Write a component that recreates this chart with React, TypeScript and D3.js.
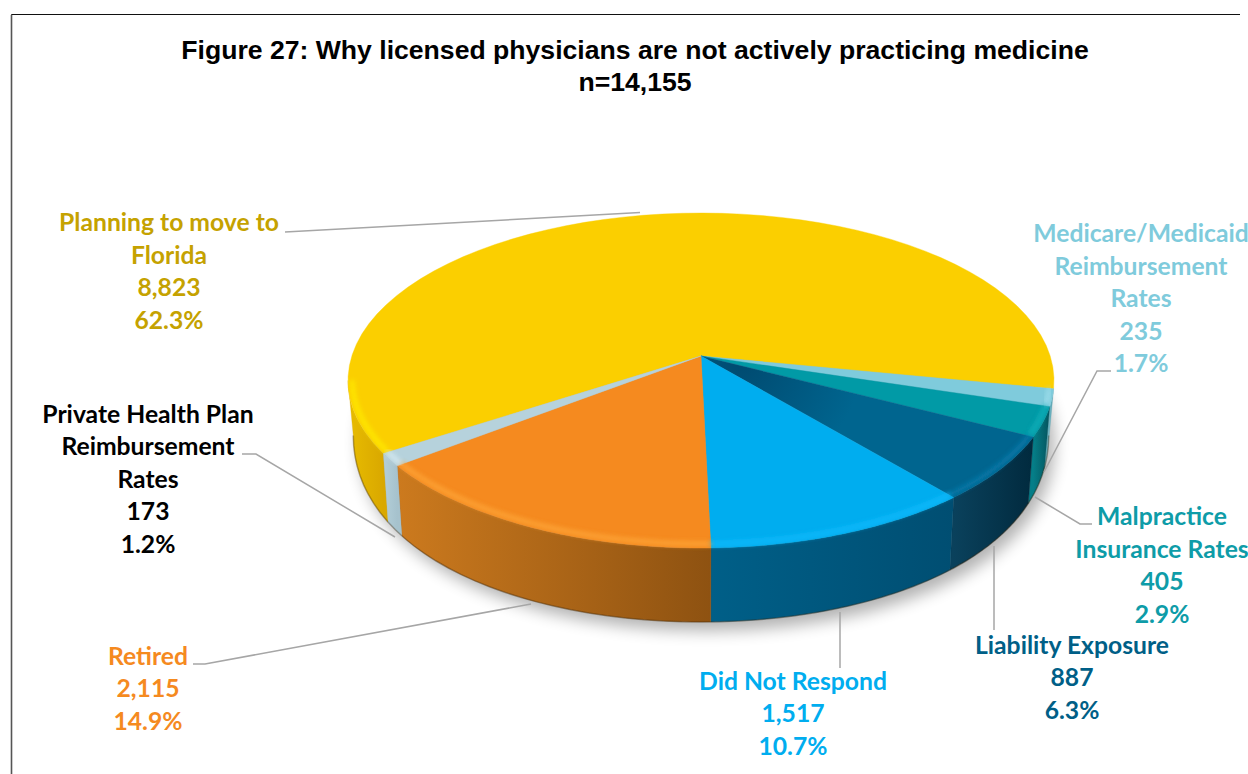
import React from "react";
import * as d3 from "d3";

const titleLines = ["Figure 27: Why licensed physicians are not actively practicing medicine", "n=14,155"];
const categories = ["Planning to move to Florida", "Medicare/Medicaid Reimbursement Rates", "Malpractice Insurance Rates", "Liability Exposure", "Did Not Respond", "Retired", "Private Health Plan Reimbursement Rates"];
const counts = [8823, 235, 405, 887, 1517, 2115, 173];
const percents = ["62.3%", "1.7%", "2.9%", "6.3%", "10.7%", "14.9%", "1.2%"];
const labelLines = [["Planning to move to", "Florida"], ["Medicare/Medicaid", "Reimbursement", "Rates"], ["Malpractice", "Insurance Rates"], ["Liability Exposure"], ["Did Not Respond"], ["Retired"], ["Private Health Plan", "Reimbursement", "Rates"]];
const topColors = ["#FBCF00", "#7FCBDC", "#019AA6", "#00658F", "#00ADEF", "#F58A1F", "#B6D2DC"];
const wallFrom = ["#E8BC00", "#6FB4C2", "#057E88", "#0A415C", "#005F88", "#CC7A1E", "#B4CFD9"];
const wallTo = ["#D9A800", "#55A0AE", "#04545E", "#012A3E", "#004E72", "#8E5211", "#A6C2CD"];
const bevelColors = ["#FFF000", "#A4E2EE", "#19B4BE", "#0A7FB0", "#12BEFF", "#FFAA3C", "#DCEEF4"];
const textColors = ["#C5A200", "#7FCBDC", "#0E9CA8", "#005F87", "#00ADEF", "#F58A1F", "#000000"];
const labelCenters = [[169, 231], [1141, 242], [1162, 525], [1072, 653.5], [793, 689.5], [148, 664.5], [148, 422.5]];
const leaders = [
  [[285, 232], [640, 212.5]],
  [[1111, 371], [1097, 371], [1044, 472]],
  [[1092, 524], [1080, 524], [1035, 497]],
  [[994, 630], [994, 546]],
  [[840, 668], [840, 612]],
  [[193, 664], [205, 664], [531, 604]],
  [[242, 454], [256, 454], [395, 537]],
];

const W = 1248, H = 774;
const apex = { x: 701, y: 356 };
const A = 349.2, B = 163.9, K = 0.1463;
const START = (236.8 * Math.PI) / 180;

const rim = (a: number) => {
  const u = Math.sin(a), v = -Math.cos(a), q = 1 - K * v;
  return [apex.x + (A * u) / q, apex.y + (B * v) / q] as [number, number];
};
const inner = (a: number) => {
  const u = Math.sin(a), v = -Math.cos(a), q = 1 - K * v;
  return [apex.x + (A * 0.988 * u) / q, apex.y + (B * 0.978 * v) / q] as [number, number];
};
const floor = (a: number) => {
  const [x, y] = rim(a);
  const v = Math.max(0, -Math.cos(a));
  return [apex.x + (x - apex.x) * 0.985, y + 74 - 26 * (1 - v) * (1 - v)] as [number, number];
};
const samples = (a0: number, a1: number, f: (a: number) => [number, number]) =>
  d3.range(0, 61).map((i) => f(a0 + ((a1 - a0) * i) / 60));
const line = d3.line();

const pie = d3.pie<number>().sort(null).startAngle(START).endAngle(START + Math.PI * 2);
const arcs = pie(counts);

// side wall is only seen on the near half of the disc
const visibleFrom = Math.PI - Math.acos(K);
const visibleTo = Math.PI + Math.acos(K);
const wallRange = (a0: number, a1: number) => {
  for (const k of [0, Math.PI * 2]) {
    const s = Math.max(a0, visibleFrom + k), e = Math.min(a1, visibleTo + k);
    if (e > s) return [s, e];
  }
  return null;
};
const wholeFloor = line(samples(0, Math.PI * 2, floor)) + "Z";
const wholeTop = line(samples(0, Math.PI * 2, rim)) + "Z";
const wholeWall = line([...samples(visibleFrom, visibleTo, rim), ...samples(visibleTo, visibleFrom, floor)]) + "Z";

export default function App() {
  return (
    <svg width={W} height={H} viewBox={`0 0 ${W} ${H}`} style={{ position: "fixed", left: 0, top: 0, display: "block", background: "#fff" }}>
      <defs>
        <filter id="shadow" x="-20%" y="-20%" width="140%" height="140%"><feGaussianBlur stdDeviation="8" /></filter>
        <filter id="soft" x="-20%" y="-20%" width="140%" height="140%"><feGaussianBlur stdDeviation="2.5" /></filter>
        <clipPath id="solid"><path d={wholeTop} /><path d={wholeWall} /></clipPath>
        {arcs.map((d, i) => {
          const r = wallRange(d.startAngle, d.endAngle);
          if (!r) return null;
          const p0 = rim(r[0]), p1 = rim(r[1]);
          const left = Math.min(p0[0], p1[0]), right = Math.max(p0[0], p1[0]);
          return (
            <linearGradient key={i} id={`wall${i}`} gradientUnits="userSpaceOnUse" x1={left} x2={right} y1={0} y2={0}>
              <stop offset="0" stopColor={wallFrom[i]} />
              <stop offset="1" stopColor={wallTo[i]} />
            </linearGradient>
          );
        })}
        <radialGradient id="liabilityShade" gradientUnits="userSpaceOnUse" cx={apex.x + 40} cy={apex.y + 5} r={120}>
          <stop offset="0" stopColor="#004A70" />
          <stop offset="1" stopColor="#00658F" />
        </radialGradient>
      </defs>

      <path d={`M11.5 775V14.5H1240`} fill="none" stroke="#111" strokeWidth={1} />
      <path d={`M11.5 15V775`} fill="none" stroke="#555" strokeWidth={1.6} />

      {titleLines.map((t, i) => (
        <text key={t} x={635} y={59 + i * 31.5} textAnchor="middle" fontFamily="Liberation Sans" fontWeight={700} fontSize={26.6} fill="#000">{t}</text>
      ))}

      <path d={wholeFloor} transform="translate(6 9)" fill="#000" opacity={0.3} filter="url(#shadow)" />

      {arcs.map((d, i) => {
        const r = wallRange(d.startAngle, d.endAngle);
        if (!r) return null;
        const top = samples(r[0], r[1], rim);
        const bottom = samples(r[1], r[0], floor);
        return <path key={i} d={line([...top, ...bottom]) + "Z"} fill={`url(#wall${i})`} stroke={wallTo[i]} strokeWidth={0.3} />;
      })}
      <path d={line(samples(visibleFrom, visibleTo, floor)) || ""} fill="none" stroke="#3A2408" strokeOpacity={0.35} strokeWidth={1.5} />

      {arcs.map((d, i) => {
        const pts = [[apex.x, apex.y] as [number, number], ...samples(d.startAngle, d.endAngle, rim)];
        return <path key={i} d={line(pts) + "Z"} fill={i === 3 ? "url(#liabilityShade)" : topColors[i]} stroke={i === 3 ? "#00658F" : topColors[i]} strokeWidth={0.4} />;
      })}

      <g clipPath="url(#solid)">
        {arcs.map((d, i) => {
          const r = wallRange(d.startAngle, d.endAngle);
          if (!r) return null;
          const path = line(samples(r[0], r[1], inner)) || "";
          return <path key={i} d={path} fill="none" stroke={bevelColors[i]} strokeWidth={4} filter="url(#soft)" opacity={0.9} />;
        })}
      </g>

      {leaders.map((pts, i) => (
        <path key={i} d={line(pts as [number, number][]) || ""} fill="none" stroke="#A6A6A6" strokeWidth={1.5} />
      ))}

      {categories.map((c, i) => {
        const lines = [...labelLines[i], d3.format(",")(counts[i]), percents[i]];
        return (
          <text key={c} fontFamily="Lato" fontWeight={700} fontSize={24.7} fill={textColors[i]} textAnchor="middle">
            {lines.map((t, j) => (
              <tspan key={j} x={labelCenters[i][0]} y={labelCenters[i][1] + j * 32.5}>{t}</tspan>
            ))}
          </text>
        );
      })}
    </svg>
  );
}
